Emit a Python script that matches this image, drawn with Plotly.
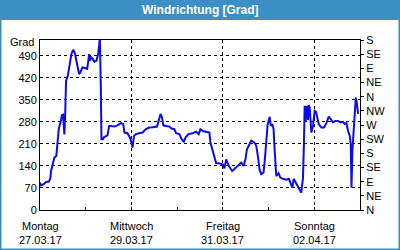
import plotly.graph_objects as go
import pandas as pd

# hours since 27.03.17 00:00 and wind direction in degrees (0..540 scale)
hours = [0, 0.53, 1.93, 3.32, 4.58, 5.42, 5.79, 6.68, 7.53, 8.58, 9.32, 9.84, 10.68, 11.58, 12.1,
         12.47, 12.79, 13.16, 13.68, 14.58, 15.42, 16.47, 17.37, 18.26, 19.1, 19.84, 20.53, 21.21,
         22.26, 23.53, 24.74, 25.26, 25.79, 26.16, 26.84, 27.74, 28.58, 29.63, 30.53, 31.05, 31.42,
         31.95, 32.26, 33.0, 33.53, 35.42, 36.32, 37.21, 38.95, 40.68, 42.47, 43.68, 44.37, 45.95,
         47.21, 48.05, 48.58, 49.32, 50.37, 52.1, 53.84, 55.63, 57.37, 59.1, 61.42, 62.26, 63.32,
         64.05, 64.74, 66.16, 67.89, 69.1, 70.53, 71.42, 73.16, 74.37, 75.42, 76.47, 77.89, 80.16,
         81.95, 83.32, 84.21, 85.42, 87.21, 88.95, 89.47, 90.68, 91.58, 92.47, 94.21, 95.95, 96.84,
         97.74, 98.95, 100.37, 100.89, 102.1, 103.84, 105.63, 106.84, 107.89, 108.58, 109.63,
         110.89, 112.63, 113.53, 114.37, 115.26, 116.16, 117.37, 118.05, 118.79, 119.47, 120.53,
         121.21, 121.95, 122.63, 123.16, 124.05, 125.26, 126.16, 127.53, 129.32, 130.68, 131.42,
         132.47, 133.16, 134.58, 136.1, 137.21, 137.53, 138.05, 138.58, 138.95, 139.47, 140.0,
         140.68, 141.05, 141.58, 141.95, 142.47, 143.32, 144.21, 144.89, 145.63, 146.32, 147.74,
         149.1, 150.37, 151.58, 152.63, 153.84, 155.1, 156.47, 157.89, 159.1, 160.0, 160.89,
         161.74, 162.63, 163.16, 163.53, 164.05, 164.58, 164.89, 165.42, 165.79, 166.32, 167.0]
direction = [87, 78, 82, 90, 90, 100, 124, 145, 166, 172, 214, 257, 276, 302, 303,
             246, 240, 289, 410, 426, 458, 495, 509, 500, 474, 448, 432, 437,
             453, 451, 448, 469, 495, 474, 485, 479, 471, 474, 495, 522, 548,
             384, 225, 225, 231, 237, 267, 267, 265, 269, 276, 273, 246, 244,
             230, 214, 198, 235, 241, 244, 246, 257, 262, 263, 265, 283, 305,
             294, 269, 267, 265, 259, 257, 244, 241, 225, 216, 231, 241, 244,
             249, 241, 257, 251, 249, 246, 214, 188, 161, 149, 148, 145, 132,
             161, 142, 129, 124, 130, 140, 151, 140, 161, 191, 206,
             220, 214, 204, 172, 129, 114, 119, 161, 235, 269, 296,
             267, 273, 257, 193, 108, 117, 103, 99, 96, 99, 87,
             71, 99, 82, 66, 55, 76, 99, 214, 331, 283, 331,
             286, 333, 325, 278, 246, 267, 315, 312, 286, 273, 262,
             262, 276, 297, 289, 278, 283, 283, 278, 280, 273, 276,
             251, 235, 209, 71, 193, 246, 286, 347, 357, 341, 305]

tick_dates = ["2017-03-27", "2017-03-29", "2017-03-31", "2017-04-02"]
tick_days = ["Montag", "Mittwoch", "Freitag", "Sonntag"]
tick_labels = ["27.03.17", "29.03.17", "31.03.17", "02.04.17"]
left_ticks = [0, 70, 140, 210, 280, 350, 420, 490]
right_ticks = [0, 45, 90, 135, 180, 225, 270, 315, 360, 405, 450, 495, 540]
right_labels = ["N", "NE", "E", "SE", "S", "SW", "W", "NW", "N", "NE", "E", "SE", "S"]
title_text = "Windrichtung [Grad]"
unit_text = "Grad"

start = pd.Timestamp("2017-03-27")
times = [start + pd.Timedelta(hours=h) for h in hours]

W, H = 400, 250
L, R, T, B = 40, 40, 40, 40
PW, PH = W - L - R, H - T - B
FRAME = "#3b8fc4"
FONT = "Liberation Sans"


def px(x):
    return (x - L) / PW


def py(y):
    return (H - B - y) / PH


fig = go.Figure()
fig.add_trace(go.Scatter(x=times, y=direction, mode="lines",
                         line=dict(color="#0b0bf0", width=2), hoverinfo="skip",
                         showlegend=False))
fig.add_trace(go.Scatter(x=times, y=direction, mode="lines", yaxis="y2",
                         line=dict(color="rgba(0,0,0,0)", width=0), hoverinfo="skip",
                         showlegend=False))

annotations = [
    dict(text=f"<b>{title_text}</b>", xref="paper", yref="paper",
         x=px(200), y=py(10.5), xanchor="center", yanchor="middle", showarrow=False,
         font=dict(family=FONT, size=12, color="white")),
    dict(text=unit_text, xref="paper", yref="paper",
         x=px(36), y=py(42.5), xanchor="right", yanchor="middle", showarrow=False,
         font=dict(family=FONT, size=11, color="black")),
]
for d, day, lab in zip(tick_dates, tick_days, tick_labels):
    annotations.append(dict(text=day, xref="x", yref="paper", x=d, y=py(226),
                            xanchor="center", yanchor="middle", showarrow=False,
                            font=dict(family=FONT, size=11, color="black")))
    annotations.append(dict(text=lab, xref="x", yref="paper", x=d, y=py(239.5),
                            xanchor="center", yanchor="middle", showarrow=False,
                            font=dict(family=FONT, size=11, color="black")))

fig.update_layout(
    width=W, height=H,
    margin=dict(l=L, r=R, t=T, b=B, pad=0),
    paper_bgcolor="white", plot_bgcolor="white",
    font=dict(family=FONT, size=11, color="black"),
    showlegend=False,
    xaxis=dict(
        type="date",
        range=[start, start + pd.Timedelta(days=7)],
        tickvals=tick_dates,
        showticklabels=False,
        showgrid=True, gridcolor="black", gridwidth=1, griddash="3px,3px",
        showline=True, linecolor="black", linewidth=1, mirror=True,
        ticks="inside", ticklen=3, tickcolor="black",
        minor=dict(dtick=86400000, ticks="inside", ticklen=3, tickcolor="black", showgrid=False),
        zeroline=False, fixedrange=True,
    ),
    yaxis=dict(
        range=[0, 540],
        tickvals=left_ticks,
        showgrid=True, gridcolor="black", gridwidth=1, griddash="3px,3px",
        showline=True, linecolor="black", linewidth=1,
        ticks="", zeroline=False, fixedrange=True,
    ),
    yaxis2=dict(
        range=[0, 540], overlaying="y", side="right",
        tickvals=right_ticks, ticktext=right_labels,
        showgrid=False, showline=True, linecolor="black", linewidth=1,
        ticks="outside", ticklen=3, tickcolor="black",
        zeroline=False, fixedrange=True,
    ),
    shapes=[
        dict(type="rect", xref="paper", yref="paper",
             x0=px(0), x1=px(W), y0=py(0), y1=py(20),
             fillcolor=FRAME, line=dict(width=0), layer="below"),
        dict(type="rect", xref="paper", yref="paper",
             x0=px(0.75), x1=px(W - 0.75), y0=py(0.75), y1=py(H - 0.75),
             fillcolor="rgba(0,0,0,0)", line=dict(color=FRAME, width=1.5), layer="above"),
    ],
    annotations=annotations,
)

fig.write_html("out.html")
